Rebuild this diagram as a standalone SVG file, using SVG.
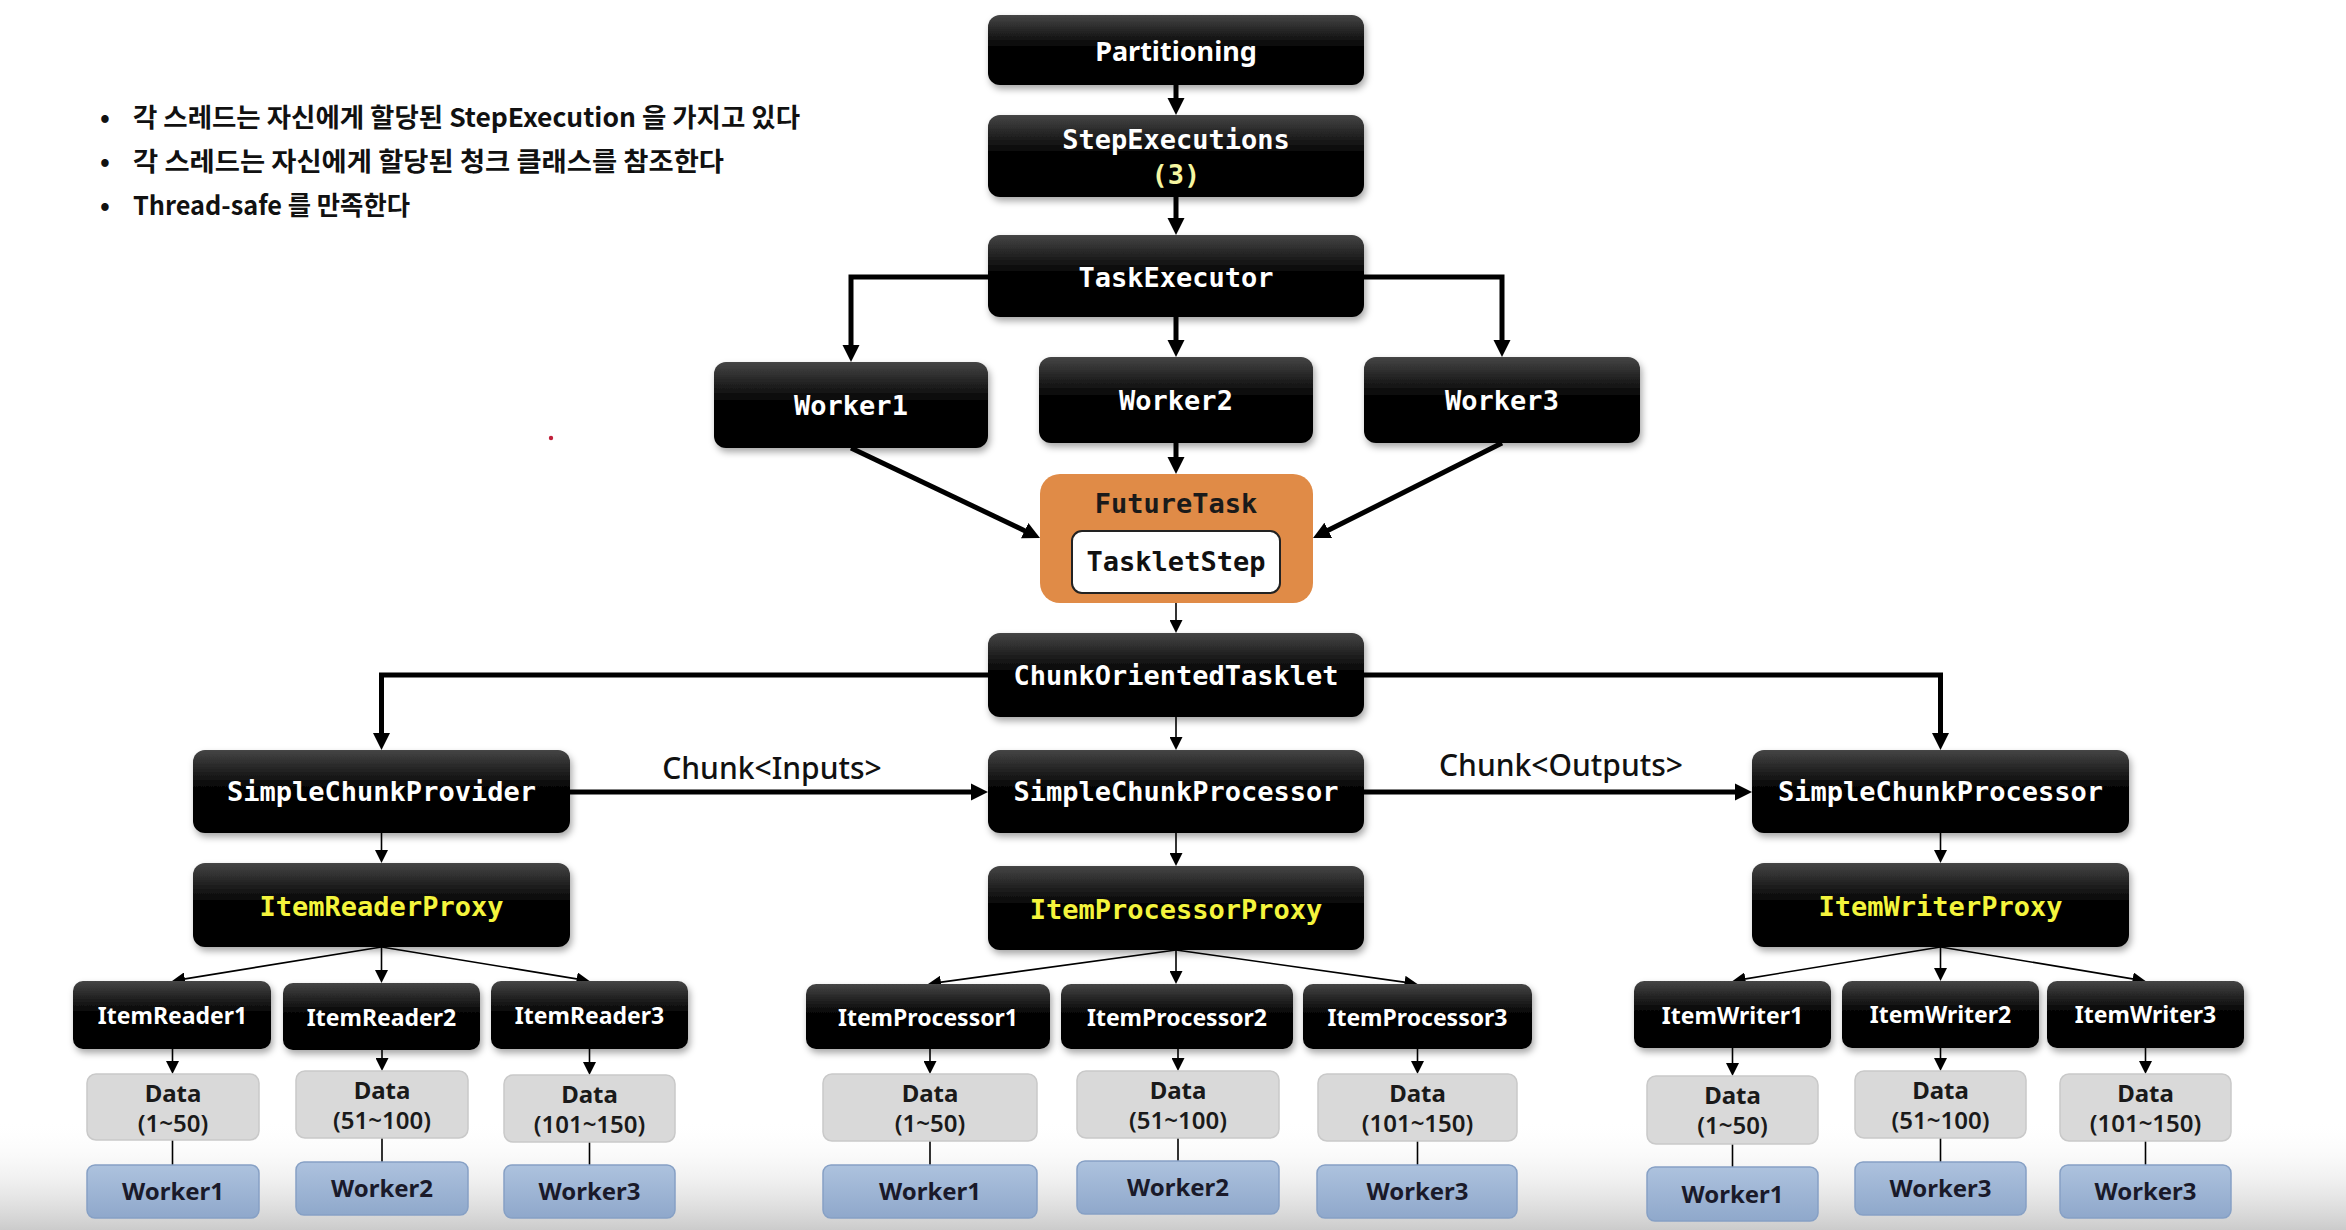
<svg xmlns="http://www.w3.org/2000/svg" width="2346" height="1230" viewBox="0 0 2346 1230">
<defs>
<linearGradient id="gBlack" x1="0" y1="0" x2="0" y2="1">
<stop offset="0" stop-color="#454545"/>
<stop offset="0.45" stop-color="#050505"/>
<stop offset="1" stop-color="#000"/>
</linearGradient>
<linearGradient id="gBlue" x1="0" y1="0" x2="0" y2="1">
<stop offset="0" stop-color="#adc2de"/>
<stop offset="1" stop-color="#8fa8cb"/>
</linearGradient>
<linearGradient id="gBottom" x1="0" y1="0" x2="0" y2="1">
<stop offset="0" stop-color="#ffffff" stop-opacity="0"/>
<stop offset="1" stop-color="#cbcbcb"/>
</linearGradient>
<filter id="shadow" x="-10%" y="-20%" width="120%" height="150%">
<feDropShadow dx="2" dy="4" stdDeviation="3.5" flood-color="#000" flood-opacity="0.35"/>
</filter>
<marker id="ah" viewBox="0 0 10 10" refX="1" refY="5" markerWidth="17" markerHeight="18" markerUnits="userSpaceOnUse" orient="auto">
<path d="M0,0 L10,5 L0,10 z" fill="#000"/>
</marker>
<marker id="at" viewBox="0 0 10 10" refX="1" refY="5" markerWidth="13" markerHeight="13" markerUnits="userSpaceOnUse" orient="auto">
<path d="M0,0 L10,5 L0,10 z" fill="#000"/>
</marker>
</defs>
<style>
.blk{fill:url(#gBlack);filter:url(#shadow)}
.mono{font-family:"DejaVu Sans Mono","Liberation Mono",monospace;font-weight:bold;font-size:27px;text-anchor:middle}
.w{fill:#fff}
.y{fill:#f4f43c}
.sans{font-family:"Noto Sans","Open Sans","Liberation Sans",sans-serif;font-weight:bold;text-anchor:middle}
.item{font-size:23px;fill:#fff}
.data{fill:#d9d9d9;stroke:#c9c9c9;stroke-width:1.5}
.wk{fill:url(#gBlue);stroke:#86a0c5;stroke-width:1.5}
.dt{font-size:24px;fill:#1a1a1a}
.dr{font-size:24px;fill:#1a1a1a;font-weight:600}
.wt{font-size:24px;fill:#1a1a2a}
.thick{fill:none;stroke:#000;stroke-width:5;marker-end:url(#ah)}
.thin{fill:none;stroke:#000;stroke-width:1.6;marker-end:url(#at)}
.plain{fill:none;stroke:#000;stroke-width:1.6}
.kr{font-family:"Noto Sans CJK KR","Noto Sans",sans-serif;font-weight:bold;font-size:26px;fill:#111}
.lbl{font-family:"Noto Sans","Open Sans","Liberation Sans",sans-serif;font-size:30px;font-weight:500;fill:#111;text-anchor:middle}
</style>
<rect x="0" y="0" width="2346" height="1230" fill="#fff"/>
<rect x="0" y="1120" width="2346" height="110" fill="url(#gBottom)"/>
<circle cx="551" cy="438" r="2.2" fill="#c0203a"/>

<g id="bullets">
<text class="kr" x="100" y="127">•</text>
<text class="kr" x="133" y="127" textLength="667" lengthAdjust="spacingAndGlyphs">각 스레드는 자신에게 할당된 StepExecution 을 가지고 있다</text>
<text class="kr" x="100" y="171">•</text>
<text class="kr" x="133" y="171" textLength="591" lengthAdjust="spacingAndGlyphs">각 스레드는 자신에게 할당된 청크 클래스를 참조한다</text>
<text class="kr" x="100" y="215">•</text>
<text class="kr" x="133" y="215" textLength="277" lengthAdjust="spacingAndGlyphs">Thread-safe 를 만족한다</text>
</g>

<g id="connectors">
<path class="thick" d="M1176,85 V99.7"/>
<path class="thick" d="M1176,197 V219.7"/>
<path class="thick" d="M988,277 H851 V346.7"/>
<path class="thick" d="M1176,317 V341.7"/>
<path class="thick" d="M1364,277 H1502 V341.7"/>
<path class="thick" d="M851,448 L1026.2,531.4"/>
<path class="thick" d="M1176,443 V458.7"/>
<path class="thick" d="M1502,443 L1326.7,531.1"/>
<path class="thin" d="M1176,593 V621.3"/>
<path class="thick" d="M988,675 H381.5 V734.7"/>
<path class="thick" d="M1364,675 H1940.5 V734.7"/>
<path class="thin" d="M1176,717 V738.3"/>
<path class="thick" d="M570,792 H972.7"/>
<path class="thick" d="M1364,792 H1736.7"/>
<path class="thin" d="M381.5,833 V851.3"/>
<path class="thin" d="M1176,833 V854.3"/>
<path class="thin" d="M1940.5,833 V851.3"/>
<path class="thin" d="M381.5,947 L183.6,979.1"/>
<path class="thin" d="M381.5,947 V971.3"/>
<path class="thin" d="M381.5,947 L578,979.1"/>
<path class="thin" d="M1176,950 L939.6,982.4"/>
<path class="thin" d="M1176,950 V972.3"/>
<path class="thin" d="M1176,950 L1405.9,982.4"/>
<path class="thin" d="M1940.5,947 L1744.1,979.1"/>
<path class="thin" d="M1940.5,947 V969.3"/>
<path class="thin" d="M1940.5,947 L2134,979.1"/>
<path class="thin" d="M172.5,1049 V1062.3"/>
<path class="thin" d="M382,1050 V1059.3"/>
<path class="thin" d="M589.5,1049 V1063.3"/>
<path class="thin" d="M930,1049 V1062.3"/>
<path class="thin" d="M1178,1049 V1059.3"/>
<path class="thin" d="M1417.5,1049 V1062.3"/>
<path class="thin" d="M1732.5,1048 V1064.3"/>
<path class="thin" d="M1940.5,1048 V1059.3"/>
<path class="thin" d="M2145.5,1048 V1062.3"/>
<path class="plain" d="M172.5,1140 V1165"/>
<path class="plain" d="M382,1138 V1162"/>
<path class="plain" d="M589.5,1142 V1165"/>
<path class="plain" d="M930,1141 V1165"/>
<path class="plain" d="M1178,1138 V1161"/>
<path class="plain" d="M1417.5,1141 V1165"/>
<path class="plain" d="M1732.5,1144 V1167"/>
<path class="plain" d="M1940.5,1138 V1162"/>
<path class="plain" d="M2145.5,1141 V1165"/>
<text class="lbl" x="772" y="779">Chunk&lt;Inputs&gt;</text>
<text class="lbl" x="1561" y="776">Chunk&lt;Outputs&gt;</text>
</g>

<g id="partitioning"><rect class="blk" x="988" y="15" width="376" height="70" rx="12"/><text class="sans w" x="1176" y="61" font-size="27">Partitioning</text></g>
<g id="stepexecutions"><rect class="blk" x="988" y="115" width="376" height="82" rx="12"/><text class="mono w" x="1176" y="149">StepExecutions</text><text class="mono" x="1176" y="184" fill="#f6f6a0">(3)</text></g>
<g id="taskexecutor"><rect class="blk" x="988" y="235" width="376" height="82" rx="12"/><text class="mono w" x="1176" y="287">TaskExecutor</text></g>
<g id="worker1"><rect class="blk" x="714" y="362" width="274" height="86" rx="12"/><text class="mono w" x="851" y="415">Worker1</text></g>
<g id="worker2"><rect class="blk" x="1039" y="357" width="274" height="86" rx="12"/><text class="mono w" x="1176" y="410">Worker2</text></g>
<g id="worker3"><rect class="blk" x="1364" y="357" width="276" height="86" rx="12"/><text class="mono w" x="1502" y="410">Worker3</text></g>
<g id="futuretask"><rect x="1040" y="474" width="273" height="129" rx="20" fill="#e08b47"/><text class="mono" x="1176" y="513" fill="#1a1a1a">FutureTask</text>
<rect x="1072" y="531" width="208" height="62" rx="10" fill="#fff" stroke="#222" stroke-width="2"/><text class="mono" x="1176" y="571" fill="#111" font-weight="normal" font-size="25">TaskletStep</text></g>
<g id="chunkorientedtasklet"><rect class="blk" x="988" y="633" width="376" height="84" rx="12"/><text class="mono w" x="1176" y="685">ChunkOrientedTasklet</text></g>
<g id="simplechunkprovider"><rect class="blk" x="193" y="750" width="377" height="83" rx="12"/><text class="mono w" x="381.5" y="801">SimpleChunkProvider</text></g>
<g id="simplechunkprocessor1"><rect class="blk" x="988" y="750" width="376" height="83" rx="12"/><text class="mono w" x="1176" y="801">SimpleChunkProcessor</text></g>
<g id="simplechunkprocessor2"><rect class="blk" x="1752" y="750" width="377" height="83" rx="12"/><text class="mono w" x="1940.5" y="801">SimpleChunkProcessor</text></g>
<g id="itemreaderproxy"><rect class="blk" x="193" y="863" width="377" height="84" rx="12"/><text class="mono y" x="381.5" y="916">ItemReaderProxy</text></g>
<g id="itemprocessorproxy"><rect class="blk" x="988" y="866" width="376" height="84" rx="12"/><text class="mono y" x="1176" y="919">ItemProcessorProxy</text></g>
<g id="itemwriterproxy"><rect class="blk" x="1752" y="863" width="377" height="84" rx="12"/><text class="mono y" x="1940.5" y="916">ItemWriterProxy</text></g>

<g id="itemreader1"><rect class="blk" x="73" y="981" width="198" height="68" rx="10"/><text class="sans item" x="172.5" y="1024">ItemReader1</text></g>
<g id="itemreader2"><rect class="blk" x="283" y="983" width="197" height="67" rx="10"/><text class="sans item" x="381.5" y="1026">ItemReader2</text></g>
<g id="itemreader3"><rect class="blk" x="491" y="981" width="197" height="68" rx="10"/><text class="sans item" x="589.5" y="1024">ItemReader3</text></g>
<g id="itemprocessor1"><rect class="blk" x="806" y="984" width="244" height="65" rx="10"/><text class="sans item" x="928" y="1026">ItemProcessor1</text></g>
<g id="itemprocessor2"><rect class="blk" x="1061" y="984" width="232" height="65" rx="10"/><text class="sans item" x="1177" y="1026">ItemProcessor2</text></g>
<g id="itemprocessor3"><rect class="blk" x="1303" y="984" width="229" height="65" rx="10"/><text class="sans item" x="1417.5" y="1026">ItemProcessor3</text></g>
<g id="itemwriter1"><rect class="blk" x="1634" y="981" width="197" height="67" rx="10"/><text class="sans item" x="1732.5" y="1024">ItemWriter1</text></g>
<g id="itemwriter2"><rect class="blk" x="1842" y="981" width="197" height="67" rx="10"/><text class="sans item" x="1940.5" y="1023">ItemWriter2</text></g>
<g id="itemwriter3"><rect class="blk" x="2047" y="981" width="197" height="67" rx="10"/><text class="sans item" x="2145.5" y="1023">ItemWriter3</text></g>

<g id="data-r1"><rect class="data" x="87" y="1074" width="172" height="66" rx="9"/><text class="sans dt" x="173" y="1102">Data</text><text class="sans dr" x="173" y="1132">(1~50)</text></g>
<g id="data-r2"><rect class="data" x="296" y="1071" width="172" height="67" rx="9"/><text class="sans dt" x="382" y="1099">Data</text><text class="sans dr" x="382" y="1129">(51~100)</text></g>
<g id="data-r3"><rect class="data" x="504" y="1075" width="171" height="67" rx="9"/><text class="sans dt" x="589.5" y="1103">Data</text><text class="sans dr" x="589.5" y="1133">(101~150)</text></g>
<g id="data-p1"><rect class="data" x="823" y="1074" width="214" height="67" rx="9"/><text class="sans dt" x="930" y="1102">Data</text><text class="sans dr" x="930" y="1132">(1~50)</text></g>
<g id="data-p2"><rect class="data" x="1077" y="1071" width="202" height="67" rx="9"/><text class="sans dt" x="1178" y="1099">Data</text><text class="sans dr" x="1178" y="1129">(51~100)</text></g>
<g id="data-p3"><rect class="data" x="1318" y="1074" width="199" height="67" rx="9"/><text class="sans dt" x="1417.5" y="1102">Data</text><text class="sans dr" x="1417.5" y="1132">(101~150)</text></g>
<g id="data-w1"><rect class="data" x="1647" y="1076" width="171" height="68" rx="9"/><text class="sans dt" x="1732.5" y="1104">Data</text><text class="sans dr" x="1732.5" y="1134">(1~50)</text></g>
<g id="data-w2"><rect class="data" x="1855" y="1071" width="171" height="67" rx="9"/><text class="sans dt" x="1940.5" y="1099">Data</text><text class="sans dr" x="1940.5" y="1129">(51~100)</text></g>
<g id="data-w3"><rect class="data" x="2060" y="1074" width="171" height="67" rx="9"/><text class="sans dt" x="2145.5" y="1102">Data</text><text class="sans dr" x="2145.5" y="1132">(101~150)</text></g>

<g id="wk-r1"><rect class="wk" x="87" y="1165" width="172" height="53" rx="8"/><text class="sans wt" x="173" y="1200">Worker1</text></g>
<g id="wk-r2"><rect class="wk" x="296" y="1162" width="172" height="53" rx="8"/><text class="sans wt" x="382" y="1197">Worker2</text></g>
<g id="wk-r3"><rect class="wk" x="504" y="1165" width="171" height="53" rx="8"/><text class="sans wt" x="589.5" y="1200">Worker3</text></g>
<g id="wk-p1"><rect class="wk" x="823" y="1165" width="214" height="53" rx="8"/><text class="sans wt" x="930" y="1200">Worker1</text></g>
<g id="wk-p2"><rect class="wk" x="1077" y="1161" width="202" height="53" rx="8"/><text class="sans wt" x="1178" y="1196">Worker2</text></g>
<g id="wk-p3"><rect class="wk" x="1317" y="1165" width="200" height="53" rx="8"/><text class="sans wt" x="1417.5" y="1200">Worker3</text></g>
<g id="wk-w1"><rect class="wk" x="1647" y="1167" width="171" height="54" rx="8"/><text class="sans wt" x="1732.5" y="1203">Worker1</text></g>
<g id="wk-w2"><rect class="wk" x="1855" y="1162" width="171" height="53" rx="8"/><text class="sans wt" x="1940.5" y="1197">Worker3</text></g>
<g id="wk-w3"><rect class="wk" x="2060" y="1165" width="171" height="53" rx="8"/><text class="sans wt" x="2145.5" y="1200">Worker3</text></g>
</svg>
